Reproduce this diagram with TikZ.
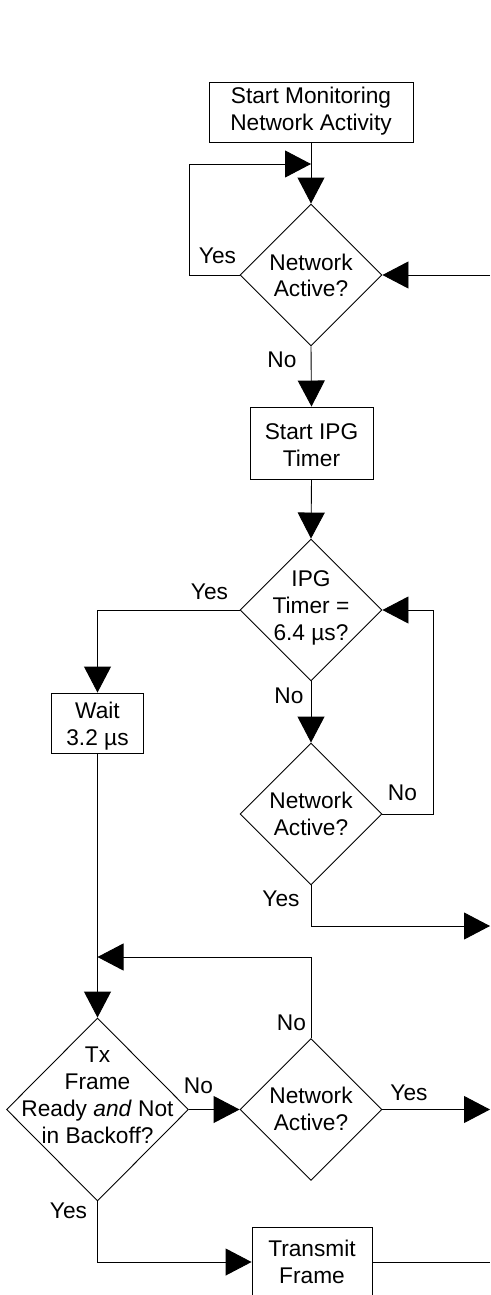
\documentclass[tikz,border=0pt]{standalone}
\usepackage{fontspec}
\setmainfont{Liberation Sans}
\usetikzlibrary{arrows.meta,shapes.geometric}
\begin{document}
\begin{tikzpicture}[x=1pt,y=-1pt,
  every node/.style={font=\fontsize{22.7}{26.7}\selectfont},
  boxnode/.style={draw, rectangle, inner sep=0pt, line width=0.9pt},
  dianode/.style={draw, diamond, inner sep=0pt, line width=0.9pt, minimum width=142pt, minimum height=142pt},
  txt/.style={align=center, anchor=base, inner sep=0pt},
  lbl/.style={anchor=base, inner sep=0pt},
  conn/.style={line width=0.9pt},
  arr/.style={conn, -{Triangle[length=26pt,width=27pt]}}]
\useasboundingbox (0,0) rectangle (490,1295);

% nodes (text nodes placed by the baseline of their last line)
\node[boxnode, minimum width=204pt, minimum height=60pt] (box1) at (311,112) {};
\node[txt] (t1) at (311,130.5) {Start Monitoring\\Network Activity};

\node[dianode] (d1) at (311,275) {};
\node[txt] (t2) at (311,296.7) {Network\\Active?};

\node[boxnode, minimum width=123pt, minimum height=72pt] (box2) at (311.5,443) {};
\node[txt] (t3) at (311.5,466) {Start IPG\\Timer};

\node[dianode] (d2) at (311,610) {};
\node[txt] (t4) at (311,640) {IPG\\Timer =\\6.4 µs?};

\node[boxnode, minimum width=92pt, minimum height=60pt] (wait) at (97.5,723) {};
\node[txt] (t5) at (97.5,745.5) {Wait\\3.2 µs};

\node[dianode] (d3) at (311,814) {};
\node[txt] (t6) at (311,835) {Network\\Active?};

\node[dianode, minimum width=182pt, minimum height=183pt] (d4) at (97.5,1109.5) {};
\node[txt] (t7) at (97.5,1143) {Tx\\Frame\\Ready \textit{and} Not\\in Backoff?};

\node[dianode] (d5) at (311,1109.5) {};
\node[txt] (t8) at (311,1130) {Network\\Active?};

\node[boxnode, minimum width=120pt, minimum height=70pt] (box3) at (312,1262) {};
\node[txt] (t9) at (312,1283) {Transmit\\Frame};

% labels
\node[lbl] (l1) at (217.5,263) {Yes};
\node[lbl] (l2) at (282,367) {No};
\node[lbl] (l3) at (209.5,599) {Yes};
\node[lbl] (l4) at (289,703) {No};
\node[lbl] (l5) at (402.5,800) {No};
\node[lbl] (l6) at (281,906.5) {Yes};
\node[lbl] (l7) at (291.5,1030) {No};
\node[lbl] (l8) at (198.5,1093) {No};
\node[lbl] (l9) at (409,1100) {Yes};
\node[lbl] (l10) at (68.5,1218) {Yes};

% coordinates
\coordinate (m1) at (311,164);
\coordinate (yl) at (189,164);
\coordinate (r1) at (490,275);
\coordinate (c2) at (433,610);
\coordinate (r3) at (490,926);
\coordinate (j) at (97.5,957);
\coordinate (r5) at (490,1109.5);
\coordinate (r6) at (490,1262);

% connectors
\draw[arr] (box1.south) -- (d1.north);
\draw[arr] (d1.west) -| (yl) -- (m1);
\draw[arr] (r1) -- (d1.east);
\draw[arr] (d1.south) -- (box2.north);
\draw[arr] (box2.south) -- (d2.north);
\draw[arr] (d2.west) -| (wait.north);
\draw[arr] (d2.south) -- (d3.north);
\draw[arr] (d3.east) -| (c2) -- (d2.east);
\draw[arr] (d3.south) |- (r3);
\draw[arr] (wait.south) -- (d4.north);
\draw[arr] (d5.north) |- (j);
\draw[arr] (d4.east) -- (d5.west);
\draw[arr] (d5.east) -- (r5);
\draw[arr] (d4.south) |- (box3.west);
\draw[conn] (box3.east) -- (r6);
\end{tikzpicture}
\end{document}
